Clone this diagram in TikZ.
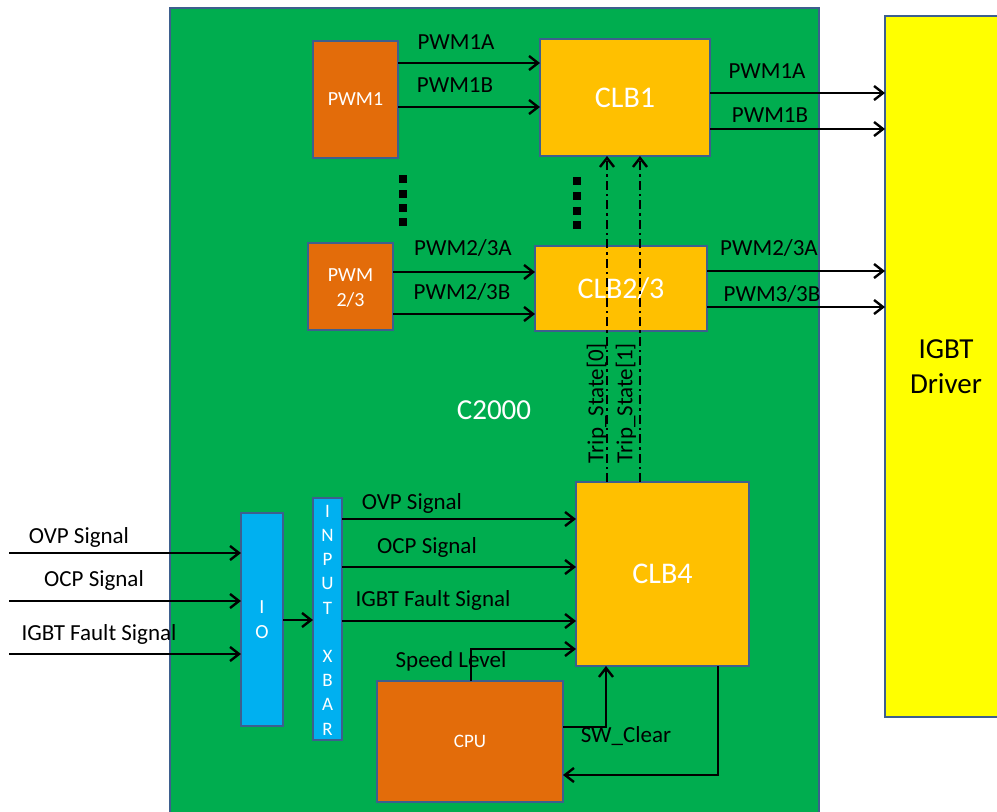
\documentclass[tikz,border=0pt]{standalone}
\usepackage{fontspec}
\setmainfont{Carlito}
\usetikzlibrary{arrows.meta,calc}
\definecolor{gbg}{HTML}{00AD4F}
\definecolor{bord}{HTML}{3D5F8E}
\definecolor{orng}{HTML}{E36C0A}
\definecolor{clbc}{HTML}{FFC000}
\definecolor{bluec}{HTML}{00B0F0}
\definecolor{yell}{HTML}{FFFF00}
\tikzset{
  box/.style={draw=bord, line width=2.8pt, inner sep=0pt, outer sep=0pt, anchor=north west},
  wtxt/.style={text=white, align=center, inner sep=0pt},
  lab/.style={font=\fontsize{23}{27}\selectfont, text=black, inner sep=0pt},
  arr/.style={line width=2.4pt, -{Straight Barb[length=9pt,width=14pt,line width=2.4pt]}},
  darr/.style={arr, dash pattern=on 9pt off 4pt on 2.5pt off 4pt},
  plain/.style={line width=2.4pt}
}
\begin{document}
\begin{tikzpicture}[x=1pt,y=-1pt]
\useasboundingbox (0,0) rectangle (997,812);
% main boards
\node[box, fill=gbg, minimum width=649pt, minimum height=815pt] (c2000) at (170,8) {};
\node[box, fill=yell, minimum width=122pt, minimum height=701pt] (igbt) at (885,16) {};
\node[align=center, font=\fontsize{29}{35}\selectfont, inner sep=0pt] (igbtt) at (946,367) {IGBT\\Driver};
\node[wtxt, font=\fontsize{29}{32}\selectfont] (c2t) at (494,410) {C2000};
% boxes
\node[box, fill=orng, minimum width=85pt, minimum height=117pt] (pwm1) at (313,41) {};
\node[wtxt, font=\fontsize{20}{24}\selectfont] at (pwm1.center) {PWM1};
\node[box, fill=clbc, minimum width=170pt, minimum height=117pt] (clb1) at (540,39) {};
\node[wtxt, font=\fontsize{30}{34}\selectfont] at (clb1.center) {CLB1};
\node[box, fill=orng, minimum width=85pt, minimum height=87pt] (pwm23) at (308,243) {};
\node[wtxt, font=\fontsize{20}{25}\selectfont] at ($(pwm23.center)+(0,1.5)$) {PWM\\2/3};
\node[box, fill=clbc, minimum width=172pt, minimum height=85pt] (clb23) at (535,246) {};
\node[wtxt, font=\fontsize{30}{34}\selectfont] at (clb23.center) {CLB2/3};
\node[box, fill=clbc, minimum width=173pt, minimum height=184pt] (clb4) at (576,482) {};
\node[wtxt, font=\fontsize{30}{34}\selectfont] at (clb4.center) {CLB4};
\node[box, fill=bluec, minimum width=42pt, minimum height=213pt] (io) at (241,513) {};
\node[wtxt, font=\fontsize{20}{25}\selectfont] at (io.center) {I\\O};
\node[box, fill=bluec, minimum width=29pt, minimum height=242pt] (xbar) at (313,498) {};
\node[wtxt, font=\fontsize{19}{24.2}\selectfont] at ($(xbar.center)+(0,1)$) {I\\N\\P\\U\\T\\[24.2pt]X\\B\\A\\R};
\node[box, fill=orng, minimum width=186pt, minimum height=121pt] (cpu) at (377,681) {};
\node[wtxt, font=\fontsize{19}{23}\selectfont] at (cpu.center) {CPU};
% dots
\foreach \yy in {179,194,208,222} \fill (399,\yy-4) rectangle (407,\yy+4);
\foreach \yy in {181,196,211,225} \fill (573,\yy-4) rectangle (581,\yy+4);
% PWM1 -> CLB1
\draw[arr] ($(pwm1.north east)+(0,22)$) -- ($(clb1.north west)+(0,24)$);
\draw[arr] ($(pwm1.north east)+(0,66)$) -- ($(clb1.north west)+(0,68)$);
\node[lab] (l1) at (456,42) {PWM1A};
\node[lab] (l2) at (455,85) {PWM1B};
% CLB1 -> IGBT
\draw[arr] ($(clb1.north east)+(0,54)$) -- ($(igbt.north west)+(0,77)$);
\draw[arr] ($(clb1.north east)+(0,90)$) -- ($(igbt.north west)+(0,113)$);
\node[lab] (l3) at (767,71) {PWM1A};
\node[lab] (l4) at (770,115) {PWM1B};
% PWM2/3 -> CLB2/3
\draw[arr] ($(pwm23.north east)+(0,29)$) -- ($(clb23.north west)+(0,26)$);
\draw[arr] ($(pwm23.north east)+(0,71)$) -- ($(clb23.north west)+(0,68)$);
\node[lab] (l5) at (463,248) {PWM2/3A};
\node[lab] (l6) at (462,292) {PWM2/3B};
% CLB2/3 -> IGBT
\draw[arr] ($(clb23.north east)+(0,25)$) -- ($(igbt.north west)+(0,255)$);
\draw[arr] ($(clb23.north east)+(0,61)$) -- ($(igbt.north west)+(0,291)$);
\node[lab] (l7) at (769,248) {PWM2/3A};
\node[lab] (l8) at (772,294) {PWM3/3B};
% Trip state
\draw[darr] ($(clb4.north west)+(31,0)$) -- ($(clb1.south west)+(67,0)$);
\draw[darr] ($(clb4.north west)+(64,0)$) -- ($(clb1.south west)+(100,0)$);
\node[lab, rotate=90] (t0) at (597,403) {Trip\_State[0]};
\node[lab, rotate=90] (t1) at (626,403) {Trip\_State[1]};
% external inputs
\coordinate (in1) at (9,553);
\coordinate (in2) at (9,601);
\coordinate (in3) at (9,654);
\draw[arr] (in1) -- (in1 -| io.west);
\draw[arr] (in2) -- (in2 -| io.west);
\draw[arr] (in3) -- (in3 -| io.west);
\node[lab] (l9) at (79,537) {OVP Signal};
\node[lab] (l10) at (94,580) {OCP Signal};
\node[lab] (l11) at (99,634) {IGBT Fault Signal};
% IO -> XBAR
\draw[arr] ($(io.north east)+(0,107)$) -- ($(xbar.north west)+(0,122)$);
% XBAR -> CLB4
\draw[arr] ($(xbar.north east)+(0,21)$) -- ($(clb4.north west)+(0,37)$);
\draw[arr] ($(xbar.north east)+(0,69)$) -- ($(clb4.north west)+(0,85)$);
\draw[arr] ($(xbar.north east)+(0,123)$) -- ($(clb4.north west)+(0,139)$);
\node[lab] (l12) at (412,503) {OVP Signal};
\node[lab] (l13) at (427,547) {OCP Signal};
\node[lab] (l14) at (433,600) {IGBT Fault Signal};
% Speed level
\node[lab] (l15) at (451,661) {Speed Level};
\draw[arr] ($(cpu.north west)+(94,0)$) |- ($(clb4.north west)+(0,167)$);
% SW clear
\draw[arr] ($(cpu.north east)+(0,46)$) -| ($(clb4.south west)+(30,0)$);
\node[lab] (l16) at (626,736) {SW\_Clear};
% CLB4 -> CPU
\draw[arr] ($(clb4.south west)+(142,0)$) |- ($(cpu.north east)+(0,94)$);
\end{tikzpicture}
\end{document}
